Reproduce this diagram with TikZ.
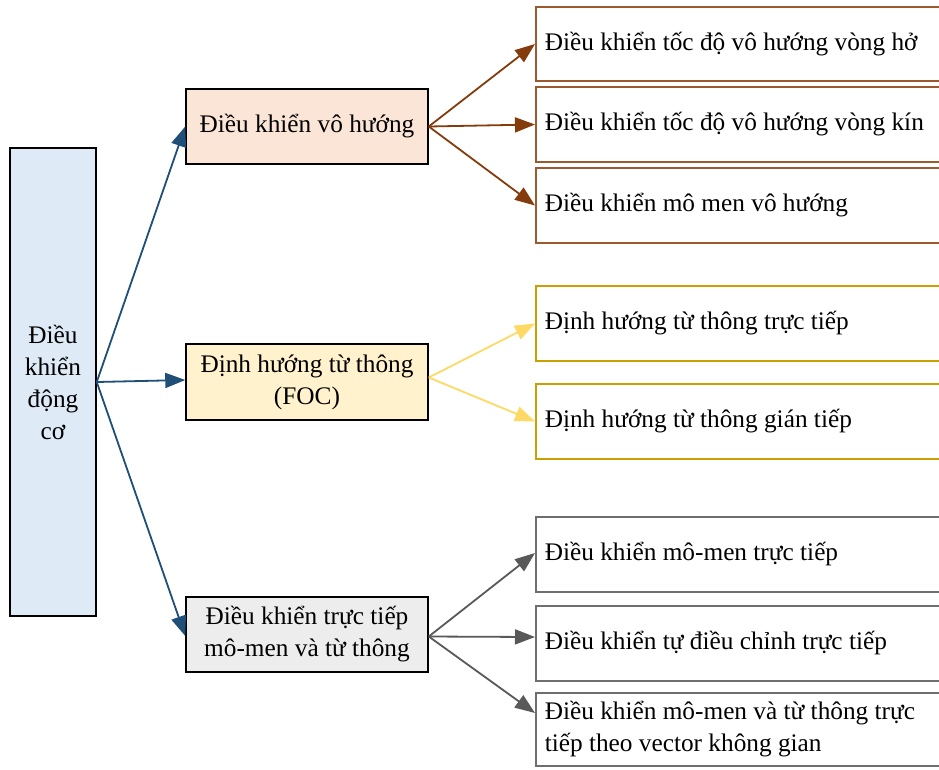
\documentclass[tikz,border=0pt]{standalone}
\usepackage{fontspec}
\setmainfont{Liberation Serif}
\usetikzlibrary{arrows.meta}
\definecolor{cLeft}{HTML}{DEEBF7}
\definecolor{cM1}{HTML}{FBE5D6}
\definecolor{cM2}{HTML}{FFF2CC}
\definecolor{cM3}{HTML}{EDEDED}
\definecolor{aBlue}{HTML}{1F4E79}
\definecolor{aBrown}{HTML}{843C0C}
\definecolor{bBrown}{HTML}{9C5A2E}
\definecolor{aYellow}{HTML}{FFD966}
\definecolor{bGold}{HTML}{C9A000}
\definecolor{aGray}{HTML}{595959}
\definecolor{bGray}{HTML}{6E6E6E}
\tikzset{
  x=1pt, y=-1pt,
  txt/.style={font=\fontsize{25.3}{32}\selectfont},
  midbox/.style={txt, draw=black, line width=1.5pt, minimum width=242pt, align=center, inner sep=2pt},
  rightbox/.style={txt, anchor=west, line width=1.5pt, minimum width=410pt, text width=392pt, align=flush left, inner xsep=9pt, inner ysep=0pt},
  brownbox/.style={rightbox, draw=bBrown},
  goldbox/.style={rightbox, draw=bGold},
  graybox/.style={rightbox, draw=bGray},
  conn/.style={line width=1.8pt, -{Triangle[length=20pt,width=15pt]}},
}
\begin{document}
\begin{tikzpicture}
\useasboundingbox (0,0) rectangle (939,769);
\clip (0,0) rectangle (939,769);
\fill[white] (0,0) rectangle (939,769);
% left
\node[txt, draw=black, fill=cLeft, line width=1.5pt, minimum width=86pt, minimum height=468pt, align=center, inner sep=0pt] (L) at (53,382) {Điều\\khiển\\động\\cơ};
% middle
\node[midbox, fill=cM1, minimum height=75pt] (M1) at (307,126.5) {Điều khiển vô hướng};
\node[midbox, fill=cM2, minimum height=76pt] (M2) at (307,382) {Định hướng từ thông\\(FOC)};
\node[midbox, fill=cM3, minimum height=75pt] (M3) at (307,634.5) {Điều khiển trực tiếp\\mô-men và từ thông};
% right
\node[brownbox, minimum height=74pt] (R1) at (535,44) {Điều khiển tốc độ vô hướng vòng hở};
\node[brownbox, minimum height=75pt] (R2) at (535,124.5) {Điều khiển tốc độ vô hướng vòng kín};
\node[brownbox, minimum height=75pt] (R3) at (535,205.5) {Điều khiển mô men vô hướng};
\node[goldbox, minimum height=75pt] (G1) at (535,323.5) {Định hướng từ thông trực tiếp};
\node[goldbox, minimum height=75pt] (G2) at (535,421.5) {Định hướng từ thông gián tiếp};
\node[graybox, minimum height=75pt] (Y1) at (535,554.5) {Điều khiển mô-men trực tiếp};
\node[graybox, minimum height=75pt] (Y2) at (535,643.5) {Điều khiển tự điều chỉnh trực tiếp};
\node[graybox, minimum height=73pt] (Y3) at (535,729.5) {Điều khiển mô-men và từ thông trực\\tiếp theo vector không gian};
% connectors
\coordinate (Lo) at (L.east);
\draw[conn, aBlue] (Lo) -- (M1.west);
\draw[conn, aBlue] (Lo) -- ([yshift=2pt]M2.west);
\draw[conn, aBlue] (Lo) -- ([yshift=-1.5pt]M3.west);
\draw[conn, aBrown] (M1.east) -- (R1.west);
\draw[conn, aBrown] (M1.east) -- (R2.west);
\draw[conn, aBrown] (M1.east) -- (R3.west);
\draw[conn, aYellow] ([yshift=4.5pt]M2.east) -- (G1.west);
\draw[conn, aYellow] ([yshift=4.5pt]M2.east) -- (G2.west);
\draw[conn, aGray] ([yshift=-2pt]M3.east) -- ([yshift=1.5pt]Y1.west);
\draw[conn, aGray] ([yshift=-2pt]M3.east) -- ([yshift=6.5pt]Y2.west);
\draw[conn, aGray] ([yshift=-2pt]M3.east) -- ([yshift=16.5pt]Y3.west);
\end{tikzpicture}
\end{document}
